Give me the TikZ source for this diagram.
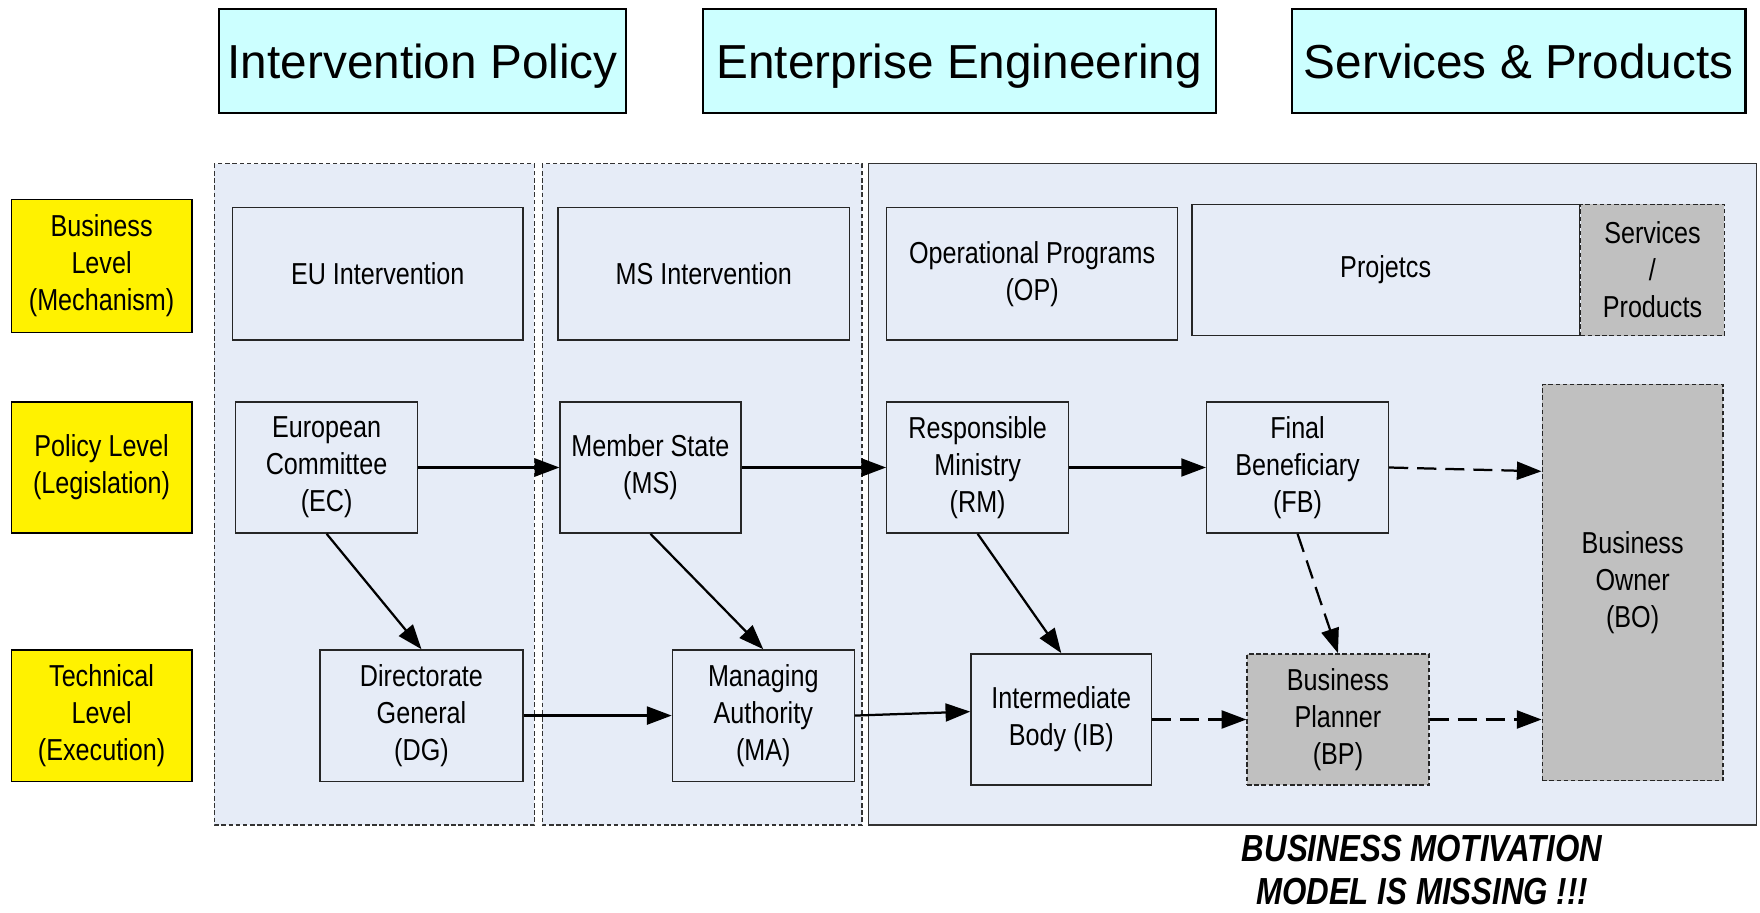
\documentclass[tikz,border=0pt]{standalone}
\usepackage{fontspec}
\setmainfont{Liberation Sans}
\newfontfamily\narrowsf[FakeStretch=0.83]{Liberation Sans}
\usetikzlibrary{arrows.meta, positioning, calc}
\definecolor{headcyan}{RGB}{204,255,255}
\definecolor{laneblue}{RGB}{230,236,247}
\definecolor{boxgray}{RGB}{192,192,192}

\begin{document}
\begin{tikzpicture}[x=0.5pt, y=-0.5pt,
    head/.style={draw=black, line width=1pt, fill=headcyan, inner sep=0pt, text depth=0pt, font=\fontsize{21.25}{25}\selectfont},
    level/.style={draw=black, line width=0.6pt, fill=yellow, align=center, inner sep=0pt, font=\narrowsf\fontsize{13.5}{16.5}\selectfont},
    unit/.style={draw=black!85, line width=0.6pt, fill=laneblue, align=center, inner sep=0pt, font=\narrowsf\fontsize{13.5}{16.5}\selectfont},
    grey/.style={unit, fill=boxgray, dash pattern=on 2pt off 1.2pt},
    wh/.style 2 args={minimum width=#1*0.5pt, minimum height=#2*0.5pt},
    flow/.style={-{Triangle[length=11pt,width=8pt]}, line width=1pt},
    weak/.style={flow, dash pattern=on 8.5pt off 4pt},
    lane/.style={fill=laneblue, draw=black!80, line width=0.5pt, dash pattern=on 2pt off 1.2pt}]
    \useasboundingbox (0,0) rectangle (1568,813);
    % swimlanes
    \draw[lane] (191,146) rectangle (476,735);
    \draw[lane] (483,146) rectangle (768,735);
    \draw[lane, solid] (774,146) rectangle (1565,735);
    % headers
    \node[head, wh={363}{93}] (IP) at (376.5,54.5) {Intervention Policy};
    \node[head, wh={457}{93}] (EE) at (854.5,54.5) {Enterprise Engineering};
    \node[head, wh={404}{93}] (SaP) at (1353,54.5) {Services \& Products};
    % levels
    \node[level, wh={161}{118}] (BL) at (90.5,237) {Business\\Level\\(Mechanism)};
    \node[level, wh={161}{117}] (PL) at (90.5,416.5) {Policy Level\\(Legislation)};
    \node[level, wh={161}{117}] (TL) at (90.5,637.5) {Technical\\Level\\(Execution)};
    % business level
    \node[unit, wh={259}{118}] (EUI) at (336.5,244) {EU Intervention};
    \node[unit, wh={260}{118}] (MSI) at (627,244) {MS Intervention};
    \node[unit, wh={259}{118}] (OP) at (919.5,244) {Operational Programs\\(OP)};
    \node[unit, wh={345}{117}] (PRJ) at (1234.5,240.5) {Projetcs};
    \node[grey, wh={128}{117}, right=0pt of PRJ] (SPR) {Services\\/\\Products};
    % policy level
    \node[unit, wh={162}{117}] (EC) at (291,416.5) {European\\Committee\\(EC)};
    \node[unit, wh={161}{117}] (MS) at (579.5,416.5) {Member State\\(MS)};
    \node[unit, wh={162}{117}] (RM) at (871,416.5) {Responsible\\Ministry\\(RM)};
    \node[unit, wh={162}{117}] (FB) at (1156,416.5) {Final\\Beneficiary\\(FB)};
    \node[grey, wh={161}{353}] (BO) at (1454.5,519) {Business\\Owner\\(BO)};
    % technical level
    \node[unit, wh={181}{117}] (DG) at (375.5,637.5) {Directorate\\General\\(DG)};
    \node[unit, wh={162}{117}] (MA) at (680,637.5) {Managing\\Authority\\(MA)};
    \node[unit, wh={161}{117}] (IB) at (945.5,641) {Intermediate\\Body (IB)};
    \node[grey, wh={162}{117}] (BP) at (1192,641) {Business\\Planner\\(BP)};
    % connectors
    \draw[flow] (EC) -- (MS);
    \draw[flow] (MS) -- (RM);
    \draw[flow] (RM) -- (FB);
    \draw[weak] (FB.east) -- ($(BO.north west)+(0,78)$);
    \draw[flow] (EC.south) -- (DG.north);
    \draw[flow] (MS.south) -- (MA.north);
    \draw[flow] (RM.south) -- (IB.north);
    \draw[weak] (FB.south) -- (BP.north);
    \draw[flow] (DG) -- (MA);
    \draw[flow] (MA.east) -- ($(IB.west)+(0,-7)$);
    \draw[weak] (IB) -- (BP);
    \draw[weak] (BP.east) -- (BP.east -| BO.west);
    \node[inner sep=0pt, font=\narrowsf\bfseries\itshape\fontsize{16.8}{19}\selectfont, align=center] (BMM) at (1267,775) {BUSINESS MOTIVATION\\MODEL IS MISSING !!!};
\end{tikzpicture}
\end{document}
